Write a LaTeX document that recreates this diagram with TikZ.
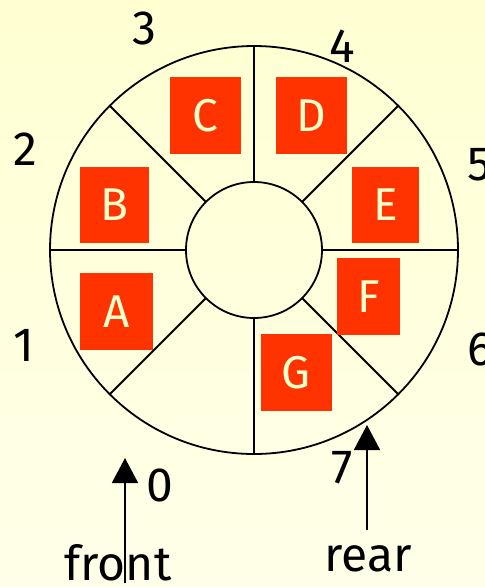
\documentclass[tikz,border=0pt]{standalone}
\usepackage{fontspec}
\setmainfont{Fira Sans}
\usetikzlibrary{arrows.meta,calc}
\definecolor{bgtop}{HTML}{FFFFD2}
\definecolor{bgbot}{HTML}{FFFFE9}
\definecolor{boxred}{HTML}{FF3300}
\definecolor{lettercol}{HTML}{FFFFCC}
\begin{document}
\begin{tikzpicture}[x=1pt,y=-1pt,
  ring/.style={line width=1.8pt,black},
  slot/.style={fill=boxred,draw=none,inner sep=0pt,text=lettercol,
    font=\fontsize{46}{50}\selectfont},
  lbl/.style={inner sep=0pt,font=\fontsize{48}{52}\selectfont},
  ptr/.style={line width=1.8pt,-{Triangle[width=26pt,length=25pt]}}]
\shade[top color=bgtop,bottom color=bgbot] (0,0) rectangle (485,587);
\useasboundingbox (0,0) rectangle (485,587);
\coordinate (O) at (254,250);
\draw[ring] (O) circle[radius=204];
\draw[ring] (O) circle[radius=68];
\foreach \a in {0,45,...,315}
  \draw[ring] ($(O)+(\a:68)$) -- ($(O)+(\a:204)$);
% slots
\node[slot,minimum width=71pt,minimum height=77pt] (C) at (205.5,115.5) {C};
\node[slot,minimum width=71pt,minimum height=77pt] (D) at (311.5,115.5) {D};
\node[slot,minimum width=69pt,minimum height=76pt] (B) at (114.5,205) {B};
\node[slot,minimum width=67pt,minimum height=76pt] (E) at (385.5,205) {E};
\node[slot,minimum width=73pt,minimum height=77pt] (A) at (116.5,311.5) {A};
\node[slot,minimum width=63pt,minimum height=77pt] (F) at (368.5,296.5) {F};
\node[slot,minimum width=71pt,minimum height=77pt] (G) at (296.5,372.5) {G};
% index labels
\node[lbl] (n3) at (144,28) {3};
\node[lbl] (n4) at (342,46) {4};
\node[lbl] (n2) at (25,149) {2};
\node[lbl] (n5) at (480,165) {5};
\node[lbl] (n1) at (24,345) {1};
\node[lbl] (n6) at (480,349) {6};
\node[lbl] (n0) at (160,485) {0};
\node[lbl] (n7) at (342,468) {7};
% pointers
\node[lbl] (front) at (118,563) {front};
\node[lbl] (rear) at (368,559) {rear};
\coordinate (fb) at (125,583);
\coordinate (ft) at (125,458);
\coordinate (rb) at (367,530);
\coordinate (rt) at (367,425);
\draw[ptr] (fb) -- (ft);
\draw[ptr] (rb) -- (rt);
\end{tikzpicture}
\end{document}
